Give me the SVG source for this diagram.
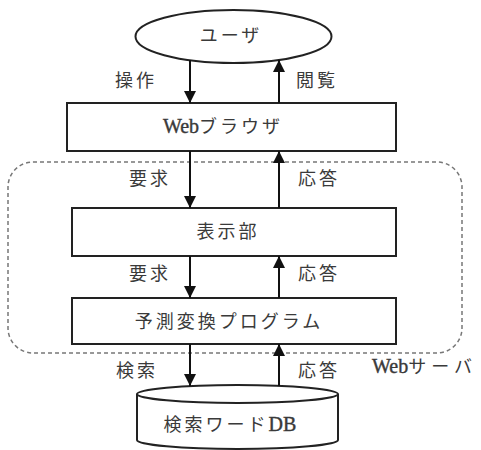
<svg xmlns="http://www.w3.org/2000/svg" width="481" height="450" viewBox="0 0 481 450">
<style>
.box{fill:#fff;stroke:#222;stroke-width:2}
.lbl{font-family:"Liberation Serif","Noto Sans CJK JP",serif;font-size:18px;fill:#3a3a3a;letter-spacing:3px}
.lat{letter-spacing:0;font-size:20px;stroke:#3a3a3a;stroke-width:0.4}
.c{text-anchor:middle}
.ln{stroke:#111;stroke-width:2;fill:none}
</style>
<defs>
<marker id="ah" viewBox="0 0 10 10" refX="10" refY="5" markerWidth="13" markerHeight="12" markerUnits="userSpaceOnUse" orient="auto">
<path d="M0,0 L10,5 L0,10 Z" fill="#111"/>
</marker>
</defs>
<rect x="0" y="0" width="481" height="450" fill="#fff"/>
<g id="webserver">
<rect x="8" y="162" width="454" height="191" rx="25" ry="25" fill="none" stroke="#777" stroke-width="1.5" stroke-dasharray="4 3"/>
<text class="lbl" x="372" y="373" style="letter-spacing:5px"><tspan class="lat">Web</tspan>サーバ</text>
</g>
<g id="user">
<ellipse class="box" cx="233.5" cy="36.5" rx="98" ry="26.5"/>
<text class="lbl c" x="231" y="42">ユーザ</text>
</g>
<g id="browser">
<rect class="box" x="67" y="103" width="329" height="48"/>
<text class="lbl c" x="223" y="133"><tspan class="lat">Web</tspan>ブラウザ</text>
</g>
<g id="display">
<rect class="box" x="72" y="208" width="324" height="48"/>
<text class="lbl c" x="228" y="238">表示部</text>
</g>
<g id="predict">
<rect class="box" x="72" y="298" width="324" height="46"/>
<text class="lbl c" x="229" y="328">予測変換プログラム</text>
</g>
<g id="db">
<path class="box" d="M137,394 L137,440 A100.5,9 0 0 0 338,440 L338,394"/>
<ellipse class="box" cx="237.5" cy="394" rx="100.5" ry="9"/>
<text class="lbl c" x="230" y="431">検索ワード<tspan class="lat">DB</tspan></text>
</g>
<g id="connectors">
<line class="ln" x1="190" y1="60" x2="190" y2="103" marker-end="url(#ah)"/>
<line class="ln" x1="279" y1="103" x2="279" y2="60" marker-end="url(#ah)"/>
<line class="ln" x1="190" y1="151" x2="190" y2="208" marker-end="url(#ah)"/>
<line class="ln" x1="279" y1="208" x2="279" y2="151" marker-end="url(#ah)"/>
<line class="ln" x1="190" y1="256" x2="190" y2="298" marker-end="url(#ah)"/>
<line class="ln" x1="279" y1="298" x2="279" y2="256" marker-end="url(#ah)"/>
<line class="ln" x1="190" y1="344" x2="190" y2="386" marker-end="url(#ah)"/>
<line class="ln" x1="279" y1="386" x2="279" y2="344" marker-end="url(#ah)"/>
<text class="lbl" x="115" y="87">操作</text>
<text class="lbl" x="296" y="87">閲覧</text>
<text class="lbl" x="129" y="185">要求</text>
<text class="lbl" x="298" y="185">応答</text>
<text class="lbl" x="129" y="280">要求</text>
<text class="lbl" x="298" y="280">応答</text>
<text class="lbl" x="116" y="377">検索</text>
<text class="lbl" x="298" y="377">応答</text>
</g>
</svg>
